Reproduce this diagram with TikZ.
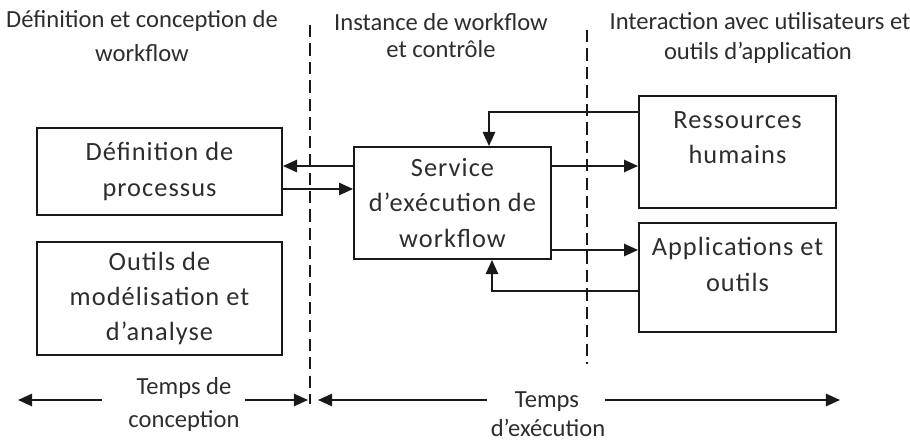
\documentclass[tikz,border=0pt]{standalone}
\usepackage{fontspec}
\setmainfont{Carlito}
\usetikzlibrary{arrows.meta,positioning}
\definecolor{lineInk}{RGB}{25,25,25}
\definecolor{textInk}{RGB}{45,45,45}

\begin{document}
\begin{tikzpicture}[x=0.02cm,y=-0.02cm,
        bx/.style={draw=lineInk, line width=1.1pt, inner sep=0pt},
        txt/.style={align=center, text=textInk, inner sep=0pt,
                    font=\fontsize{15}{20}\selectfont\addfontfeature{LetterSpace=4}},
        hd/.style={align=center, text=textInk, inner sep=0pt,
                   font=\fontsize{14}{18.5}\selectfont},
        arr/.style={-{Triangle[length=8pt,width=7pt]}, draw=lineInk, line width=1.1pt},
        sep/.style={draw=lineInk, line width=1.1pt, dash pattern=on 7pt off 3.5pt}
      ]
        \useasboundingbox (0,0) rectangle (910,442);
        % HEADERS: the three zones
        \node[hd] (hDef) at (142,21) {Définition et conception de};
        \node[hd] (hDef2) at (142,53) {workflow};
        \node[hd] (hInst) at (441,22) {Instance de workflow};
        \node[hd] (hInst2) at (441,49) {et contrôle};
        \node[hd] (hInt) at (760,21) {Interaction avec utilisateurs et};
        \node[hd] (hInt2) at (758,53) {outils d’application};
        % zone separators
        \coordinate (s1top) at (310,25);
        \coordinate (s1bot) at (310,404);
        \coordinate (s2top) at (587,30);
        \coordinate (s2bot) at (587,364);
        \draw[sep] (s1top) -- (s1bot);
        \draw[sep] (s2top) -- (s2bot);
        % LEFT: design side
        \node[bx, txt, minimum width=4.9cm, minimum height=1.74cm] (def) at (159.5,171.5) {Définition de\\processus};
        \node[bx, txt, minimum width=4.9cm, minimum height=2.26cm] (tools) at (159.5,298.5) {Outils de\\modélisation et\\d’analyse};
        % MIDDLE: engine
        \node[bx, txt, minimum width=3.94cm, minimum height=2.24cm] (eng) at (452.5,203) {Service\\d’exécution de\\workflow};
        % RIGHT: users and applications
        \node[bx, minimum width=3.94cm, minimum height=2.24cm] (hum) at (737.5,152) {};
        \node[txt] (humT) at (737.5,138) {Ressources\\humains};
        \node[bx, minimum width=3.94cm, minimum height=2.18cm] (app) at (737.5,277.5) {};
        \node[txt] (appT) at (737.5,264.5) {Applications et\\outils};
        % Arrows between engine and boxes
        \draw[arr] ([yshift=0.74cm]eng.west) -- ([yshift=0.74cm]eng.west -| def.east);
        \draw[arr] ([yshift=-0.35cm]def.east) -- ([yshift=-0.35cm]def.east -| eng.west);
        \draw[arr] ([yshift=0.74cm]eng.east) -- ([yshift=0.74cm]eng.east -| hum.west);
        \draw[arr] ([yshift=-0.94cm]eng.east) -- ([yshift=-0.94cm]eng.east -| app.west);
        % Feedback from the right side
        \coordinate (humOut) at (639,112);
        \coordinate (appOut) at (639,291);
        \draw[arr] (humOut) -| ([xshift=0.73cm]eng.north);
        \draw[arr] (appOut) -| ([xshift=0.79cm]eng.south);
        % BOTTOM: time scale
        \node[hd] (tDes) at (184,388) {Temps de};
        \node[hd] (tDes2) at (184,421) {conception};
        \node[hd] (tRun) at (547,402) {Temps};
        \node[hd] (tRun2) at (548,428) {d’exécution};
        \coordinate (desL) at (18,400);
        \coordinate (desLa) at (102,400);
        \coordinate (desRa) at (245,400);
        \coordinate (desR) at (308,400);
        \coordinate (runL) at (318,400);
        \coordinate (runLa) at (487,400);
        \coordinate (runRa) at (605,400);
        \coordinate (runR) at (840,400);
        \draw[arr] (desLa) -- (desL);
        \draw[arr] (desRa) -- (desR);
        \draw[arr] (runLa) -- (runL);
        \draw[arr] (runRa) -- (runR);
      \end{tikzpicture}
\end{document}
